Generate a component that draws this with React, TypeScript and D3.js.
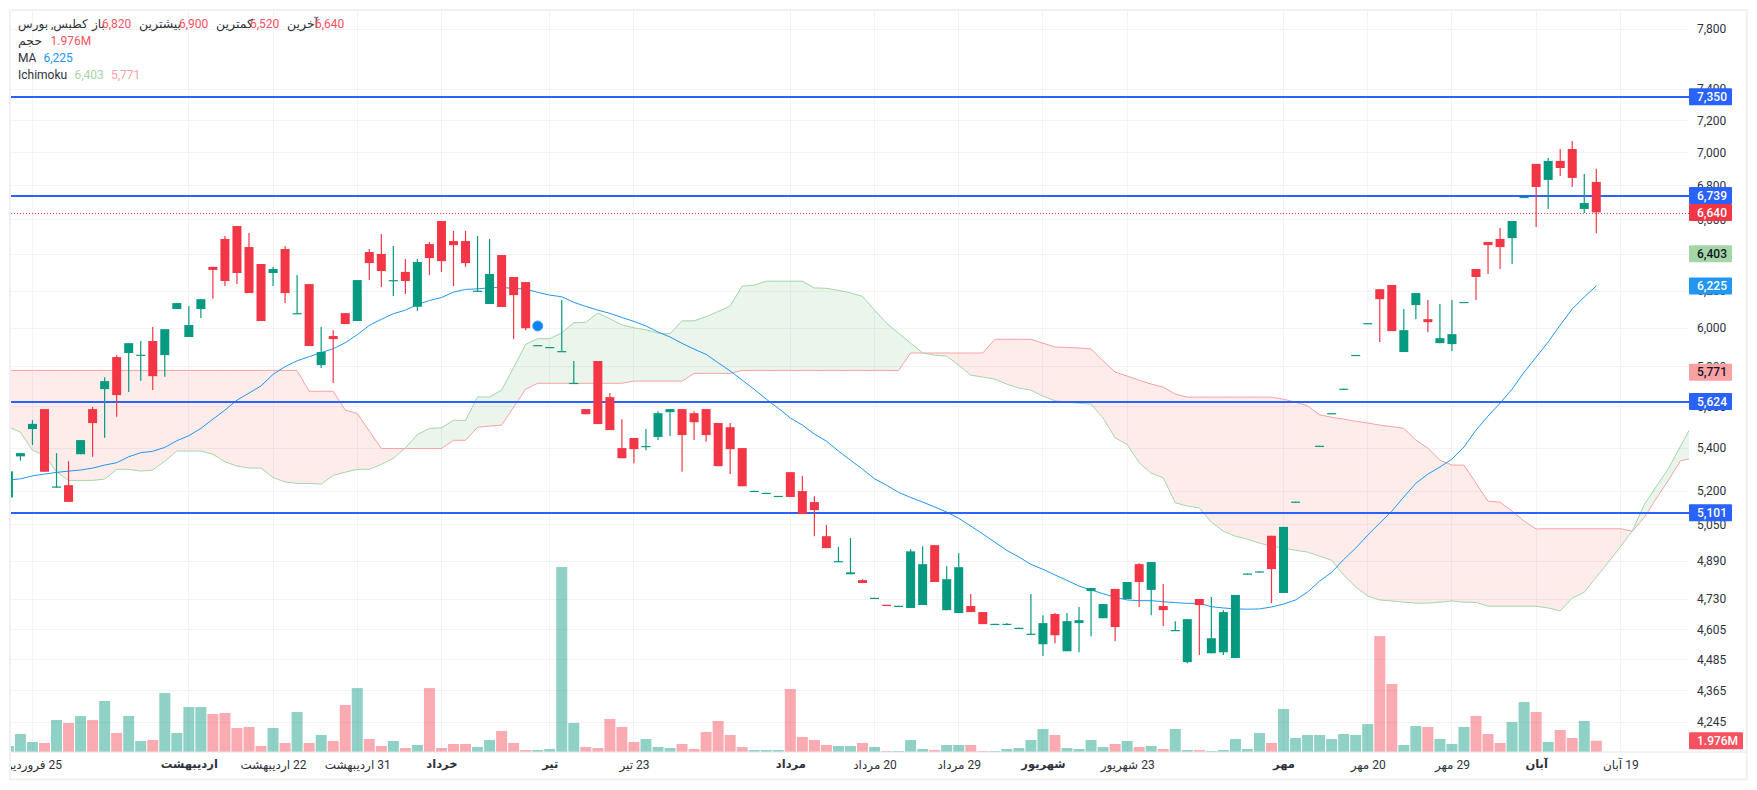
import React, { useEffect, useRef } from 'react';
import * as d3 from 'd3';

const opens: (number | null)[] = [
  5170, 5360, 5490, 5587, 5215, 5226, 5370, 5587, 5686, 5848,
  5869, 5855, 5931, 5858, 6100, 5952, 6100, 6330, 6487, 6561,
  6441, 6346, 6296, 6430, 6072, 6235, 5807, 5957, 6078, 6036,
  6413, 6402, 6253, 6302, 6112, 6458, 6590, 6475, 6475, 6195,
  6127, 6396, 6274, 6246, 5906, 5896, 5875, 5713, 5587, 5828,
  5646, 5399, 5447, 5405, 5452, 5572, 5587, 5567, 5587, 5519,
  5499, 5399, 5196, 5187, 5173, 5286, 5199, 5149, 4997, 4885,
  4833, 4808, 4730, 4705, 4697, 4692, 4704, 4958, 4683, 4671,
  4700, 4675, 4623, 4623, 4607, 4583, 4545, 4667, 4517, 4630,
  4762, 4650, 4771, 4729, 4876, 4767, 4700, 4598, 4474, 4729,
  4509, 4513, 4490, 4832, 4841, 4999, 4754, 5147, null, 5406,
  5563, 5684, 5855, 6021, 6207, 6230, 5874, 6121, 6046, 5920,
  5915, 6134, 6318, 6470, 6487, 6492, 6727, 6929, 6832, 6947,
  7020, 6660, 6820,
];
const highs: (number | null)[] = [
  5290, 5375, 5533, 5587, 5375, 5337, 5437, 5597, 5746, 5858,
  5920, 5931, 6004, 5993, 6132, 6116, 6153, 6330, 6504, 6561,
  6521, 6346, 6330, 6447, 6285, 6235, 6004, 5988, 6078, 6257,
  6430, 6515, 6447, 6374, 6374, 6470, 6590, 6533, 6533, 6504,
  6487, 6396, 6274, 6246, 5910, 5900, 6148, 5828, 5587, 5828,
  5666, 5538, 5447, 5490, 5577, 5587, 5587, 5577, 5587, 5519,
  5519, 5399, 5200, 5191, 5177, 5286, 5268, 5176, 5046, 4950,
  4989, 4812, 4734, 4705, 4701, 4940, 4953, 4958, 4867, 4923,
  4750, 4675, 4627, 4630, 4611, 4750, 4662, 4671, 4671, 4696,
  4775, 4708, 4771, 4800, 4880, 4885, 4792, 4638, 4646, 4729,
  4737, 4683, 4746, 4836, 4845, 4999, 5038, 5151, null, 5410,
  5567, 5688, 5859, 6025, 6207, 6230, 6100, 6186, 6148, 6127,
  6148, 6138, 6318, 6470, 6550, 6590, 6731, 6929, 6965, 7020,
  7070, 6868, 6900,
];
const lows: (number | null)[] = [
  5170, 5340, 5413, 5288, 5215, 5150, 5370, 5358, 5448, 5549,
  5672, 5728, 5681, 5748, 6100, 5952, 6052, 6155, 6224, 6235,
  6186, 6036, 6224, 6132, 6072, 5905, 5792, 5716, 6020, 6036,
  6257, 6219, 6170, 6181, 6090, 6285, 6302, 6224, 6330, 6193,
  6127, 6111, 5941, 5988, 5906, 5896, 5875, 5713, 5562, 5514,
  5485, 5351, 5328, 5389, 5437, 5456, 5288, 5437, 5429, 5314,
  5278, 5221, 5196, 5187, 5173, 5172, 5095, 4997, 4945, 4885,
  4833, 4796, 4730, 4701, 4697, 4692, 4704, 4800, 4683, 4671,
  4675, 4626, 4623, 4623, 4607, 4583, 4498, 4549, 4517, 4513,
  4577, 4650, 4557, 4729, 4696, 4662, 4618, 4598, 4470, 4502,
  4509, 4502, 4490, 4832, 4841, 4712, 4754, 5147, null, 5406,
  5563, 5684, 5855, 6021, 5926, 5983, 5874, 6046, 5977, 5920,
  5879, 6134, 6148, 6291, 6318, 6346, 6727, 6555, 6660, 6856,
  6790, 6637, 6520,
];
const closes: (number | null)[] = [
  5290, 5375, 5515, 5288, 5220, 5150, 5437, 5519, 5726, 5656,
  5920, 5860, 5751, 5993, 6132, 6015, 6153, 6313, 6252, 6296,
  6186, 6036, 6318, 6186, 6078, 5905, 5874, 5941, 6020, 6257,
  6351, 6307, 6257, 6252, 6357, 6379, 6362, 6452, 6351, 6199,
  6291, 6111, 6175, 5998, 5910, 5900, 5879, 5717, 5562, 5514,
  5485, 5351, 5394, 5409, 5567, 5587, 5461, 5523, 5461, 5314,
  5394, 5221, 5200, 5191, 5177, 5172, 5095, 5113, 4945, 4889,
  4841, 4796, 4734, 4701, 4701, 4931, 4876, 4800, 4812, 4863,
  4675, 4626, 4627, 4627, 4611, 4587, 4630, 4581, 4638, 4642,
  4775, 4708, 4614, 4800, 4800, 4885, 4683, 4602, 4646, 4704,
  4569, 4675, 4746, 4836, 4845, 4855, 5038, 5151, null, 5410,
  5567, 5688, 5859, 6025, 6153, 5983, 5988, 6186, 6030, 5946,
  5967, 6138, 6274, 6452, 6441, 6590, 6731, 6790, 6947, 6904,
  6844, 6695, 6640,
];

// volume in millions
const volumes = [
  1.05, 3.15, 1.75, 1.58, 5.6, 5.08, 6.3, 5.6, 8.93, 3.33,
  6.3, 1.93, 2.1, 10.33, 3.33, 7.88, 7.88, 6.65, 6.83, 4.2,
  4.38, 1.05, 4.2, 1.58, 7, 1.58, 2.98, 1.93, 8.23, 11.2,
  2.28, 1.05, 1.93, 0.7, 1.23, 11.2, 0.7, 1.4, 1.4, 0.88,
  2.1, 3.68, 1.58, 0.35, 0.35, 0.53, 32.4, 5.08, 0.88, 0.7,
  5.78, 4.38, 1.75, 2.28, 0.88, 0.7, 1.4, 0.53, 3.5, 5.43,
  2.98, 0.88, 0.35, 0.35, 0.35, 11.03, 2.63, 2.1, 1.23, 1.05,
  1.05, 1.58, 0.88, 0.18, 0.18, 2.1, 0.53, 0.35, 1.23, 1.23,
  1.23, 0.18, 0.18, 0.53, 0.7, 2.1, 4.03, 2.98, 0.7, 0.53,
  2.1, 0.88, 1.4, 1.93, 0.88, 1.05, 0.53, 4.03, 0.35, 0.35,
  0.18, 0.35, 2.28, 0.53, 3.33, 1.58, 7.53, 2.45, 2.98, 2.98,
  2.28, 3.15, 2.98, 4.9, 20.3, 11.9, 1.23, 4.55, 4.38, 2.28,
  1.4, 4.38, 6.3, 3.15, 1.58, 5.25, 8.75, 7, 1.75, 3.85,
  2.45, 5.43, 1.976,
];
const volumeUp = [
  1, 1, 1, 0, 1, 0, 1, 0, 1, 0, 1, 1, 0, 1, 1, 1, 1, 0, 0, 0,
  0, 0, 1, 0, 1, 0, 1, 0, 0, 1, 0, 0, 1, 0, 1, 0, 0, 0, 0, 1,
  1, 0, 0, 0, 1, 1, 1, 1, 0, 0, 0, 0, 0, 1, 1, 1, 0, 0, 0, 0,
  0, 0, 1, 1, 1, 0, 0, 0, 0, 1, 1, 0, 1, 0, 1, 1, 1, 0, 1, 1,
  0, 0, 1, 1, 1, 1, 1, 0, 1, 1, 1, 1, 0, 1, 0, 1, 0, 1, 1, 0,
  1, 1, 1, 1, 1, 0, 1, 1, 1, 1, 1, 1, 1, 1, 0, 0, 1, 1, 0, 1,
  1, 1, 0, 0, 0, 1, 1, 0, 1, 0, 0, 1, 0,
];

const maValues = [
  5250, 5255, 5269, 5277, 5285, 5291, 5296, 5305, 5319, 5330,
  5358, 5377, 5384, 5402, 5434, 5458, 5493, 5538, 5582, 5631,
  5666, 5702, 5760, 5799, 5829, 5850, 5871, 5891, 5922, 5964,
  6013, 6045, 6075, 6094, 6124, 6146, 6162, 6191, 6206, 6209,
  6215, 6217, 6211, 6208, 6190, 6175, 6166, 6136, 6114, 6094,
  6077, 6055, 6034, 6010, 5978, 5952, 5919, 5889, 5862, 5819,
  5777, 5731, 5685, 5636, 5591, 5544, 5509, 5466, 5432, 5385,
  5342, 5300, 5255, 5226, 5193, 5170, 5149, 5127, 5104, 5076,
  5042, 5007, 4971, 4935, 4907, 4875, 4854, 4830, 4807, 4783,
  4767, 4751, 4736, 4725, 4722, 4722, 4718, 4714, 4711, 4711,
  4697, 4692, 4688, 4687, 4688, 4696, 4708, 4725, 4758, 4804,
  4841, 4896, 4945, 5002, 5055, 5108, 5172, 5235, 5277, 5310,
  5347, 5404, 5485, 5553, 5616, 5686, 5771, 5848, 5926, 6015,
  6100, 6165, 6225,
];

// cloud runs past the last candle, so 141 points
const spanA = [
  5500, 5475, 5389, 5365, 5288, 5248, 5248, 5248, 5254, 5299,
  5299, 5291, 5296, 5337, 5385, 5385, 5385, 5370, 5334, 5315,
  5305, 5305, 5261, 5241, 5234, 5234, 5231, 5271, 5286, 5299,
  5299, 5322, 5351, 5400, 5464, 5493, 5496, 5532, 5532, 5647,
  5647, 5681, 5795, 5914, 5943, 5943, 5974, 6027, 6029, 6079,
  6048, 6016, 6000, 5990, 5972, 5969, 6037, 6037, 6059, 6087,
  6116, 6224, 6229, 6251, 6251, 6251, 6251, 6214, 6212, 6201,
  6187, 6168, 6094, 6025, 5972, 5920, 5869, 5858, 5853, 5807,
  5756, 5746, 5736, 5711, 5691, 5681, 5651, 5628, 5621, 5616,
  5611, 5544, 5448, 5416, 5330, 5281, 5260, 5146, 5131, 5123,
  5059, 5019, 4997, 4984, 4967, 4954, 4945, 4936, 4928, 4910,
  4893, 4829, 4779, 4741, 4725, 4721, 4716, 4712, 4712, 4716,
  4721, 4716, 4715, 4699, 4699, 4699, 4699, 4699, 4692, 4680,
  4733, 4757, 4821, 4884, 4951, 5021, 5139, 5221, 5303, 5408,
  5514,
];
const spanB = [
  5780, 5780, 5780, 5780, 5780, 5780, 5780, 5780, 5780, 5780,
  5780, 5780, 5780, 5780, 5780, 5780, 5780, 5780, 5780, 5780,
  5780, 5780, 5780, 5780, 5780, 5675, 5675, 5675, 5582, 5566,
  5480, 5397, 5397, 5397, 5397, 5397, 5397, 5436, 5436, 5499,
  5504, 5509, 5597, 5686, 5715, 5715, 5715, 5715, 5715, 5715,
  5715, 5715, 5726, 5726, 5726, 5726, 5726, 5765, 5765, 5765,
  5765, 5780, 5780, 5780, 5780, 5780, 5780, 5780, 5780, 5780,
  5780, 5780, 5780, 5780, 5780, 5869, 5869, 5869, 5869, 5869,
  5869, 5869, 5940, 5940, 5940, 5940, 5920, 5900, 5898, 5895,
  5890, 5828, 5772, 5751, 5731, 5711, 5696, 5661, 5646, 5646,
  5646, 5646, 5646, 5646, 5646, 5646, 5636, 5621, 5603, 5559,
  5547, 5538, 5528, 5519, 5509, 5502, 5493, 5437, 5399, 5342,
  5319, 5319, 5235, 5153, 5149, 5108, 5064, 5029, 5030, 5030,
  5030, 5030, 5030, 5030, 5030, 5019, 5081, 5167, 5249, 5339,
  5351,
];

const priceTicks = [7800, 7400, 7200, 7000, 6800, 6600, 6400, 6200, 6000, 5800, 5600, 5400, 5200, 5050, 4890, 4730, 4605, 4485, 4365, 4245];
const supportLevels = [7350, 6739, 5624, 5101];
const lastPrice = 6640;
const lastVolume = 1.976;
const alertIndex = 44;
const alertPrice = 6010;

const timeIndex = [2, 15, 22, 29, 36, 45, 52, 65, 72, 79, 86, 93, 106, 113, 120, 127, 134];
const timeLabels = [
  '25 فروردین', 'اردیبهشت', '22 اردیبهشت', '31 اردیبهشت', 'خرداد', 'تیر', '23 تیر', 'مرداد',
  '20 مرداد', '29 مرداد', 'شهریور', '23 شهریور', 'مهر', '20 مهر', '29 مهر', 'آبان', '19 آبان',
];
const timeBold = ['اردیبهشت', 'خرداد', 'تیر', 'مرداد', 'شهریور', 'مهر', 'آبان'];

const UP = '#089981';
const DOWN = '#f23645';
const BLUE = '#2962ff';
const MA_BLUE = '#2196f3';
const CLOUD_GREEN = '#a5d6a7';
const CLOUD_RED = '#faa1a4';
const GRID = '#f2f3f5';
const TEXT = '#2e323c';
const FONT = "Roboto, 'DejaVu Sans', sans-serif";

const fmt = d3.format(',');

export default function App() {
  const svgRef = useRef<SVGSVGElement>(null);

  useEffect(() => {
    if (!svgRef.current) return;
    const svg = d3.select(svgRef.current);
    svg.selectAll('*').remove();

    const plot = { left: 11, right: 1689, top: 11, bottom: 752 };
    const x = d3.scaleLinear().domain([0, 132]).range([8.4, 1596.3]);
    const y = d3.scaleLog().domain([4245, 7800]).range([722, 29]);
    const vol = d3.scaleLinear().domain([0, 32.4]).range([plot.bottom, 567]);

    const defs = svg.append('defs');
    defs.append('clipPath').attr('id', 'plot-clip').append('rect')
      .attr('x', plot.left).attr('y', plot.top)
      .attr('width', plot.right - plot.left).attr('height', plot.bottom - plot.top);
    defs.append('clipPath').attr('id', 'axis-clip').append('rect')
      .attr('x', plot.left).attr('y', plot.bottom)
      .attr('width', 1735).attr('height', 27);

    // frame
    svg.append('rect')
      .attr('x', 10).attr('y', 10).attr('width', 1736.7).attr('height', 769.5)
      .attr('fill', '#fff').attr('stroke', '#f0f0f5').attr('stroke-width', 2);

    // Gridlines
    const grid = svg.append('g').attr('stroke', GRID).attr('stroke-width', 1);
    grid.selectAll('line.h').data(priceTicks).enter().append('line')
      .attr('x1', plot.left).attr('x2', plot.right)
      .attr('y1', d => Math.round(y(d)) + 0.5).attr('y2', d => Math.round(y(d)) + 0.5);
    grid.selectAll('line.v').data(timeIndex).enter().append('line')
      .attr('x1', d => Math.floor(x(d)) + 0.5).attr('x2', d => Math.floor(x(d)) + 0.5)
      .attr('y1', plot.top).attr('y2', plot.bottom);

    const chart = svg.append('g').attr('clip-path', 'url(#plot-clip)');

    // Ichimoku cloud, coloured by whichever span is on top
    const idx = d3.range(spanA.length);
    const top = plot.top;
    const bottom = plot.bottom;
    const regionAbove = (s: number[]) => d3.area<number>().x(i => x(i)).y0(top).y1(i => y(s[i]));
    const regionBelow = (s: number[]) => d3.area<number>().x(i => x(i)).y0(bottom).y1(i => y(s[i]));
    defs.append('clipPath').attr('id', 'above-a').append('path').attr('d', regionAbove(spanA)(idx));
    defs.append('clipPath').attr('id', 'above-b').append('path').attr('d', regionAbove(spanB)(idx));
    chart.append('path')
      .attr('d', regionBelow(spanB)(idx))
      .attr('clip-path', 'url(#above-a)')
      .attr('fill', 'rgba(244,67,54,0.1)');
    chart.append('path')
      .attr('d', regionBelow(spanA)(idx))
      .attr('clip-path', 'url(#above-b)')
      .attr('fill', 'rgba(67,160,71,0.11)');

    const spanLine = (s: number[]) => d3.line<number>().x(i => x(i)).y(i => y(s[i]));
    chart.append('path').attr('d', spanLine(spanB)(idx)).attr('fill', 'none').attr('stroke', CLOUD_RED).attr('stroke-width', 1);
    chart.append('path').attr('d', spanLine(spanA)(idx)).attr('fill', 'none').attr('stroke', CLOUD_GREEN).attr('stroke-width', 1);

    // Volume
    chart.selectAll('rect.vol').data(volumes).enter().append('rect')
      .attr('x', (_, i) => x(i) - 5.5)
      .attr('width', 11)
      .attr('y', d => vol(d))
      .attr('height', d => plot.bottom - vol(d))
      .attr('fill', (_, i) => (volumeUp[i] ? UP : DOWN))
      .attr('opacity', (_, i) => (volumeUp[i] ? 0.45 : 0.42));

    // Moving average
    const maLine = d3.line<number>().x((_, i) => x(i)).y(d => y(d));
    chart.append('path').attr('d', maLine(maValues)).attr('fill', 'none').attr('stroke', MA_BLUE).attr('stroke-width', 1);

    // Horizontal levels
    chart.selectAll('line.level').data(supportLevels).enter().append('line')
      .attr('x1', plot.left).attr('x2', plot.right)
      .attr('y1', d => Math.round(y(d))).attr('y2', d => Math.round(y(d)))
      .attr('stroke', BLUE).attr('stroke-width', 2);

    // Candles
    const candles = d3.range(opens.length).filter(i => opens[i] !== null);
    const color = (i: number) => ((closes[i] as number) >= (opens[i] as number) ? UP : DOWN);
    chart.selectAll('line.wick').data(candles).enter().append('line')
      .attr('x1', i => x(i)).attr('x2', i => x(i))
      .attr('y1', i => y(highs[i] as number)).attr('y2', i => y(lows[i] as number))
      .attr('stroke', color).attr('stroke-width', 1.2);
    chart.selectAll('rect.body').data(candles).enter().append('rect')
      .attr('x', i => x(i) - 4.5)
      .attr('width', 9)
      .attr('y', i => Math.min(y(opens[i] as number), y(closes[i] as number)))
      .attr('height', i => Math.max(Math.abs(y(opens[i] as number) - y(closes[i] as number)), 1.2))
      .attr('fill', color);

    // Last price line
    chart.append('line')
      .attr('x1', plot.left).attr('x2', plot.right)
      .attr('y1', Math.ceil(y(lastPrice)) + 0.5).attr('y2', Math.ceil(y(lastPrice)) + 0.5)
      .attr('stroke', DOWN).attr('stroke-width', 1).attr('stroke-dasharray', '1 2');

    // Alert marker
    chart.append('circle')
      .attr('cx', x(alertIndex)).attr('cy', y(alertPrice)).attr('r', 5)
      .attr('fill', '#0a84f5').attr('stroke', '#3ea0f7').attr('stroke-width', 1);

    // Price axis
    const yAxis = svg.append('g')
      .attr('transform', `translate(${plot.right},0)`)
      .call(d3.axisRight(y).tickValues(priceTicks).tickFormat(d => fmt(d as number)).tickSize(0).tickPadding(8));
    yAxis.select('.domain').remove();
    yAxis.selectAll('text').attr('font-family', FONT).attr('font-size', 12).attr('fill', TEXT);

    // Time axis
    svg.append('line')
      .attr('x1', plot.left).attr('x2', 1746)
      .attr('y1', plot.bottom).attr('y2', plot.bottom)
      .attr('stroke', '#e4e5ee').attr('stroke-width', 1);
    const xAxis = svg.append('g')
      .attr('clip-path', 'url(#axis-clip)')
      .append('g')
      .attr('transform', `translate(0,${plot.bottom})`)
      .call(d3.axisBottom(x).tickValues(timeIndex).tickFormat((_, i) => timeLabels[i]).tickSize(0).tickPadding(8));
    xAxis.select('.domain').remove();
    xAxis.selectAll('text')
      .attr('font-family', FONT).attr('fill', TEXT)
      .attr('direction', 'rtl')
      .attr('font-size', (_, i) => (timeBold.includes(timeLabels[i]) ? 11.5 : 12))
      .attr('font-weight', (_, i) => (timeBold.includes(timeLabels[i]) ? 700 : 400));

    // Price tags on the axis
    const tags = [
      { value: 7350, fill: BLUE, text: '#fff' },
      { value: 6739, fill: BLUE, text: '#fff' },
      { value: 6640, fill: DOWN, text: '#fff' },
      { value: 6403, fill: CLOUD_GREEN, text: '#131722' },
      { value: 6225, fill: MA_BLUE, text: '#fff' },
      { value: 5771, fill: CLOUD_RED, text: '#131722' },
      { value: 5624, fill: BLUE, text: '#fff' },
      { value: 5101, fill: BLUE, text: '#fff' },
    ];
    const tagG = svg.selectAll('g.tag').data(tags).enter().append('g')
      .attr('transform', d => `translate(${plot.right},${y(d.value)})`);
    tagG.append('rect')
      .attr('x', 0).attr('y', -8.5).attr('width', 43).attr('height', 17).attr('rx', 1)
      .attr('fill', d => d.fill);
    tagG.append('text')
      .attr('x', 8).attr('dy', '0.35em')
      .attr('font-family', FONT).attr('font-size', 12).attr('font-weight', 500)
      .attr('fill', d => d.text)
      .text(d => fmt(d.value));

    const volTag = svg.append('g').attr('transform', `translate(${plot.right},${vol(lastVolume)})`);
    volTag.append('rect')
      .attr('x', 0).attr('y', -8.5).attr('width', 54).attr('height', 17).attr('rx', 1)
      .attr('fill', '#f7525f');
    volTag.append('text')
      .attr('x', 8).attr('dy', '0.35em')
      .attr('font-family', FONT).attr('font-size', 12).attr('font-weight', 500).attr('fill', '#fff')
      .text(`${lastVolume}M`);

    // Legend
    const legend: [number, number, string, string, number][] = [
      [18, 24, 'کطبس, بورس', TEXT, 12],
      [92, 24, 'باز', TEXT, 12],
      [102, 24, '6,820', '#f7525f', 12],
      [139, 24, 'بیشترین', TEXT, 12.5],
      [179, 24, '6,900', '#f7525f', 12],
      [216, 24, 'کمترین', TEXT, 12.5],
      [250, 24, '6,520', '#f7525f', 12],
      [287, 24, 'آخرین', TEXT, 12.5],
      [315, 24, '6,640', '#f7525f', 12],
      [18, 41, 'حجم', TEXT, 12.5],
      [50.5, 41, '1.976M', '#f7525f', 12],
      [18, 58, 'MA', TEXT, 12],
      [43.5, 58, '6,225', MA_BLUE, 12],
      [18, 75, 'Ichimoku', TEXT, 12],
      [74.5, 75, '6,403', CLOUD_GREEN, 12],
      [111, 75, '5,771', CLOUD_RED, 12],
    ];
    svg.append('g').selectAll('text').data(legend).enter().append('text')
      .attr('x', d => d[0]).attr('y', d => d[1]).attr('dy', '0.35em')
      .attr('font-family', FONT).attr('font-size', d => d[4])
      .attr('fill', d => d[3])
      .text(d => d[2]);
  }, []);

  return (
    <svg
      ref={svgRef}
      width={1757}
      height={790}
      style={{ position: 'fixed', left: 0, top: 0, background: '#fff', display: 'block' }}
    />
  );
}
